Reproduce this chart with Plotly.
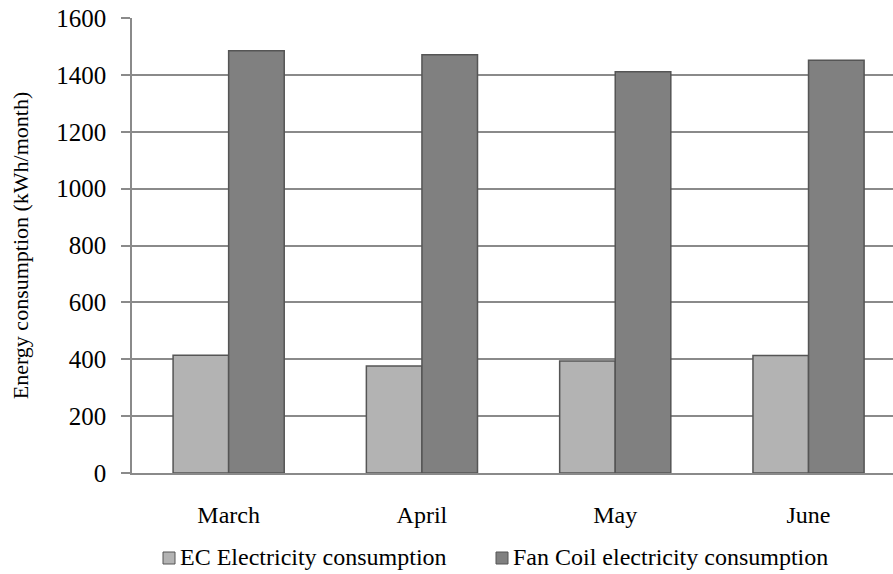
import plotly.graph_objects as go

months = ["March", "April", "May", "June"]
ec_consumption = [414, 376, 394, 413]
fan_coil_consumption = [1485, 1471, 1411, 1451]
y_ticks = [0, 200, 400, 600, 800, 1000, 1200, 1400, 1600]
series_names = ["EC Electricity consumption", "Fan Coil electricity consumption"]
series_colors = ["#b3b3b3", "#808080"]

FONT = "Liberation Serif, Times New Roman, serif"
GRID = "#8a8a8a"
EDGE = "#555555"

# plot area in pixels (used to place the hand-built legend row)
W, H = 893, 574
M_L, M_T, M_B = 132, 18, 101
plot_w = W - M_L
plot_h = H - M_T - M_B

fig = go.Figure()
for name, vals, col in zip(series_names, [ec_consumption, fan_coil_consumption], series_colors):
    fig.add_trace(go.Bar(
        x=months, y=vals, name=name, showlegend=False,
        marker=dict(color=col, line=dict(color=EDGE, width=1.5)),
    ))

# legend row below the category labels: small square swatch + label
legend_x = [163, 496]
legend_y = 558
sw = 12
for name, col, lx in zip(series_names, series_colors, legend_x):
    fig.add_shape(
        type="rect", xref="paper", yref="paper",
        x0=(lx - M_L) / plot_w, x1=(lx + sw - M_L) / plot_w,
        y0=(H - M_B - legend_y - sw / 2) / plot_h,
        y1=(H - M_B - legend_y + sw / 2) / plot_h,
        fillcolor=col, line=dict(color=EDGE, width=1),
    )
    fig.add_annotation(
        xref="paper", yref="paper",
        x=(lx + sw + 3 - M_L) / plot_w, y=(H - M_B - legend_y + 1) / plot_h,
        xanchor="left", yanchor="middle", showarrow=False, text=name,
        font=dict(family=FONT, size=24, color="black"),
    )

fig.update_layout(
    width=W, height=H,
    margin=dict(l=M_L, r=0, t=M_T, b=M_B),
    paper_bgcolor="white", plot_bgcolor="white",
    barmode="group", bargap=0.425, bargroupgap=0.0,
    font=dict(family=FONT, size=24, color="black"),
    showlegend=False,
    xaxis=dict(
        range=[-0.5, 3.437], showgrid=False, zeroline=False,
        showline=True, linecolor=GRID, linewidth=1.5,
        ticks="", ticklabelstandoff=19,
        tickfont=dict(family=FONT, size=24, color="black"),
    ),
    yaxis=dict(
        range=[0, 1600], tickvals=y_ticks, showgrid=True,
        gridcolor=GRID, gridwidth=1.5, zeroline=False,
        showline=True, linecolor=GRID, linewidth=1.5,
        ticks="outside", ticklen=9, tickcolor=GRID, tickwidth=1.5,
        ticklabelstandoff=10,
        tickfont=dict(family=FONT, size=25, color="black"),
        title=dict(text="Energy consumption (kWh/month)", standoff=22,
                   font=dict(family=FONT, size=22, color="black")),
    ),
)

fig.write_html("out.html")
